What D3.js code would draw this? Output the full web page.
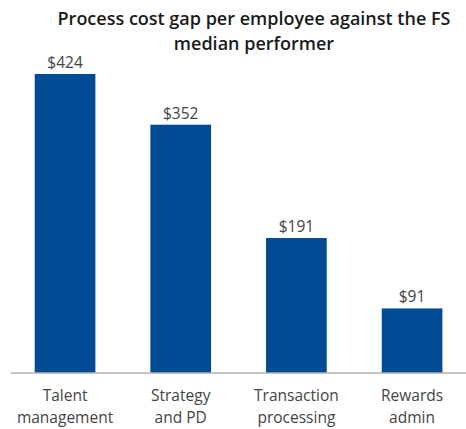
<!DOCTYPE html>
<html>
<head>
<meta charset="utf-8">
<script src="https://cdn.jsdelivr.net/npm/d3@7"></script>
<style>
  html, body { margin: 0; padding: 0; background: #fff; }
  svg { display: block; font-family: "Open Sans", sans-serif; }
</style>
</head>
<body>
<svg id="chart" width="466" height="429"></svg>
<script>
// Process categories (two-line labels) and cost gap per employee, in dollars
const categories = ["Talent management", "Strategy and PD", "Transaction processing", "Rewards admin"];
const labelLines = [["Talent", "management"], ["Strategy", "and PD"], ["Transaction", "processing"], ["Rewards", "admin"]];
const costGap = [424, 352, 191, 91];
const titleLines = ["Process cost gap per employee against the FS", "median performer"];

const svg = d3.select("#chart");
const width = 466, height = 429;
const baseline = 372.5;

const x = d3.scaleBand()
  .domain(categories)
  .range([7.2, 469.9])
  .paddingInner(0.4755)
  .paddingOuter(0.2378);

const y = d3.scaleLinear()
  .domain([0, 424])
  .range([baseline, 74]);

// Title
svg.append("g")
  .selectAll("text")
  .data(titleLines)
  .join("text")
  .attr("x", 254)
  .attr("y", (d, i) => 25 + i * 25)
  .attr("text-anchor", "middle")
  .attr("font-size", 18)
  .attr("font-weight", 600)
  .attr("fill", "#1a1a1a")
  .text(d => d);

// Bars
svg.append("g")
  .selectAll("rect")
  .data(costGap)
  .join("rect")
  .attr("x", (d, i) => x(categories[i]))
  .attr("width", x.bandwidth())
  .attr("y", d => y(d))
  .attr("height", d => baseline - y(d))
  .attr("fill", "#004b93");

// Value labels
svg.append("g")
  .selectAll("text")
  .data(costGap)
  .join("text")
  .attr("x", (d, i) => x(categories[i]) + x.bandwidth() / 2)
  .attr("y", d => y(d) - 6)
  .attr("text-anchor", "middle")
  .attr("font-size", 15.5)
  .attr("fill", "#444")
  .text(d => "$" + d);

// Baseline axis
const axis = svg.append("g")
  .attr("transform", `translate(0,${baseline})`)
  .call(d3.axisBottom(x).tickSize(0).tickFormat(""));
axis.select(".domain").attr("d", "M11,0.5H466").attr("stroke", "#8c8c8c");

// Two-line category labels
const lab = svg.append("g");
labelLines.forEach((lines, i) => {
  lab.append("text")
    .attr("text-anchor", "middle")
    .attr("font-size", 15.5)
    .attr("fill", "#444")
    .selectAll("tspan")
    .data(lines)
    .join("tspan")
    .attr("x", x(categories[i]) + x.bandwidth() / 2)
    .attr("y", (d, j) => 400.5 + j * 22)
    .text(d => d);
});
</script>
</body>
</html>
